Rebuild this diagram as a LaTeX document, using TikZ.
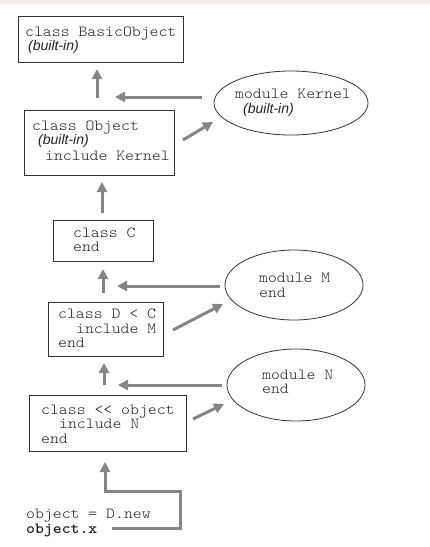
\documentclass[tikz,border=0pt]{standalone}
\usepackage{fontspec}
\setmainfont{Liberation Sans}
\setmonofont{Latin Modern Mono Light}[FakeStretch=1.1]
\usetikzlibrary{arrows.meta,shapes.geometric}
\definecolor{arrgray}{HTML}{858585}
\definecolor{linegray}{HTML}{333333}
\definecolor{txt}{HTML}{222222}
\definecolor{band}{HTML}{EFECE4}
\tikzset{
  boxshape/.style={draw=linegray, line width=1pt},
  ellshape/.style={draw=linegray, line width=0.8pt},
  code/.style={anchor=base west, inner sep=0pt, text=txt, font=\ttfamily\fontsize{15.4}{15}\selectfont},
  boldcode/.style={code, font=\ttfamily\bfseries\fontsize{15.4}{15}\selectfont},
  note/.style={anchor=base west, inner sep=0pt, text=txt, font=\itshape\fontsize{14}{15}\selectfont},
  arr/.style={draw=arrgray, line width=3pt, -{Triangle[length=10pt,width=10pt]}}
}
\begin{document}
\begin{tikzpicture}[x=1pt,y=-1pt]
\useasboundingbox (0,0) rectangle (430,547);
\fill[band] (0,0) rectangle (430,4);

% boxes
\node[boxshape, anchor=north west, minimum width=165pt, minimum height=46pt, inner sep=0pt] (basic) at (18,16) {};
\node[boxshape, anchor=north west, minimum width=150pt, minimum height=65pt, inner sep=0pt] (obj) at (24,110) {};
\node[boxshape, anchor=north west, minimum width=100pt, minimum height=41pt, inner sep=0pt] (cbox) at (53,220) {};
\node[boxshape, anchor=north west, minimum width=115pt, minimum height=54pt, inner sep=0pt] (dbox) at (48,302) {};
\node[boxshape, anchor=north west, minimum width=157pt, minimum height=56pt, inner sep=0pt] (sbox) at (29,395) {};

% ellipses
\node[ellshape, ellipse, minimum width=154pt, minimum height=64pt, inner sep=0pt] (kernel) at (291,103) {};
\node[ellshape, ellipse, minimum width=138pt, minimum height=70pt, inner sep=0pt] (modm) at (294,285) {};
\node[ellshape, ellipse, minimum width=138pt, minimum height=72pt, inner sep=0pt] (modn) at (296,385) {};

% texts
\node[code] (tbasic1) at (25,36) {class BasicObject};
\node[note] (tbasic2) at (28,50) {(built-in)};
\node[code] (tobj1) at (32,130) {class Object};
\node[note] (tobj2) at (38,144) {(built-in)};
\node[code] (tobj3) at (45,160) {include Kernel};
\node[code] (tc1) at (73,237) {class C};
\node[code] (tc2) at (73,251) {end};
\node[code] (td1) at (58,318) {class D < C};
\node[code] (td2) at (76,333) {include M};
\node[code] (td3) at (58,347) {end};
\node[code] (ts1) at (41,414) {class << object};
\node[code] (ts2) at (59,428) {include N};
\node[code] (ts3) at (41,443) {end};
\node[code] (tk1) at (235,98) {module Kernel};
\node[note] (tk2) at (243,113) {(built-in)};
\node[code] (tm1) at (259,282) {module M};
\node[code] (tm2) at (259,297) {end};
\node[code] (tn1) at (262,379) {module N};
\node[code] (tn2) at (262,393) {end};
\node[code] (tx1) at (26,518) {object = D.new};
\node[boldcode] (tx2) at (26,533) {object.x};

% connector end points
\coordinate (a1s) at (97,98);   \coordinate (a1e) at (97,69);
\coordinate (a2s) at (202,97);  \coordinate (a2e) at (115,97);
\coordinate (a3s) at (183,140); \coordinate (a3e) at (213,122);
\coordinate (a4s) at (102,213); \coordinate (a4e) at (102,182);
\coordinate (a5s) at (103,293); \coordinate (a5e) at (103,269);
\coordinate (a6s) at (220,286); \coordinate (a6e) at (117,286);
\coordinate (a7s) at (173,330); \coordinate (a7e) at (223,304);
\coordinate (a8s) at (104,385); \coordinate (a8e) at (104,363);
\coordinate (a9s) at (222,385); \coordinate (a9e) at (118,385);
\coordinate (a10s) at (193,419); \coordinate (a10e) at (224,404);
\coordinate (a11s) at (112,528); \coordinate (a11b) at (180,491); \coordinate (a11e) at (105,462);

\draw[arr] (a1s) -- (a1e);
\draw[arr] (a2s) -- (a2e);
\draw[arr] (a3s) -- (a3e);
\draw[arr] (a4s) -- (a4e);
\draw[arr] (a5s) -- (a5e);
\draw[arr] (a6s) -- (a6e);
\draw[arr] (a7s) -- (a7e);
\draw[arr] (a8s) -- (a8e);
\draw[arr] (a9s) -- (a9e);
\draw[arr] (a10s) -- (a10e);
\draw[arr, line join=miter] (a11s) -| (a11b) -| (a11e);
\end{tikzpicture}
\end{document}
